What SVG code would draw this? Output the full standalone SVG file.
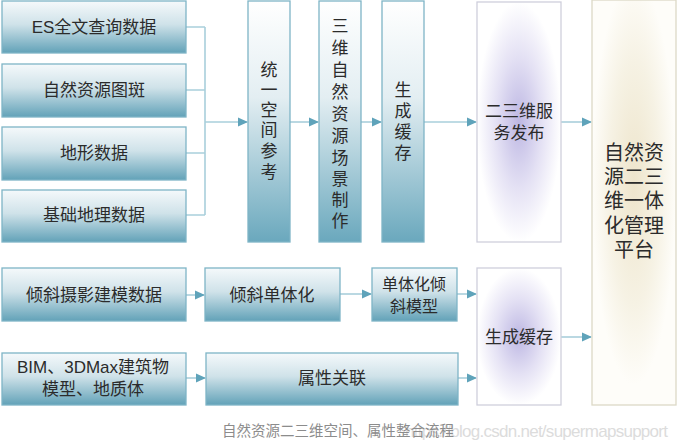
<svg xmlns="http://www.w3.org/2000/svg" width="679" height="443" viewBox="0 0 679 443">
<style>
.t{font-family:"Liberation Sans","Noto Sans CJK SC",sans-serif;fill:#2b2b2b;text-anchor:middle;dominant-baseline:central}
.box{fill:url(#teal);stroke:#7eb4c6;stroke-width:1.3}
.vbox{fill:url(#tealv);stroke:#7eb4c6;stroke-width:1.3}
.ln{stroke:#a9cfdb;stroke-width:1.6;fill:none}
.ar{stroke:#a9cfdb;stroke-width:1.6;fill:none;marker-end:url(#ah)}
</style>
<defs>
<linearGradient id="teal" x1="0" y1="0" x2="0" y2="1">
<stop offset="0" stop-color="#f5f9fb"/>
<stop offset="0.45" stop-color="#cfe2e9"/>
<stop offset="1" stop-color="#62a2b8"/>
</linearGradient>
<linearGradient id="tealv" x1="0" y1="0" x2="0" y2="1">
<stop offset="0" stop-color="#ffffff"/>
<stop offset="0.4" stop-color="#e3eef2"/>
<stop offset="1" stop-color="#6aa8bd"/>
</linearGradient>
<radialGradient id="purp" cx="0.5" cy="0.5" r="0.5">
<stop offset="0" stop-color="#bdb7e3"/>
<stop offset="0.55" stop-color="#e4e1f4"/>
<stop offset="1" stop-color="#ffffff"/>
</radialGradient>
<radialGradient id="beige" cx="0.5" cy="0.45" r="0.5">
<stop offset="0" stop-color="#eee5cc"/>
<stop offset="0.6" stop-color="#f6f2e4"/>
<stop offset="1" stop-color="#fefdf9"/>
</radialGradient>
<marker id="ah" markerWidth="10" markerHeight="10" refX="9" refY="5" orient="auto" markerUnits="userSpaceOnUse">
<path d="M0,0.5 L10,5 L0,9.5 Z" fill="#5fa3ba"/>
</marker>
</defs>

<g id="connectors">
<path class="ln" d="M186,27 H205 M186,90 H205 M186,153 H205 M186,215 H205 M205,27 V215"/>
<path class="ar" d="M205,122 H247"/>
<path class="ar" d="M290,122 H318"/>
<path class="ar" d="M361,122 H381"/>
<path class="ar" d="M424,122 H476"/>
<path class="ar" d="M561,122 H591"/>
<path class="ar" d="M186,295 H204"/>
<path class="ar" d="M340,294 H371"/>
<path class="ar" d="M457,294 H476"/>
<path class="ar" d="M186,378 H205"/>
<path class="ar" d="M458,378 H476"/>
<path class="ar" d="M561,337 H591"/>
</g>

<g id="n-es"><rect class="box" x="2" y="1" width="184" height="52"/><text class="t" x="94" y="27" font-size="17">ES全文查询数据</text></g>
<g id="n-tuban"><rect class="box" x="2" y="64" width="184" height="53"/><text class="t" x="94" y="90" font-size="17">自然资源图斑</text></g>
<g id="n-dixing"><rect class="box" x="2" y="127" width="184" height="53"/><text class="t" x="94" y="153" font-size="17">地形数据</text></g>
<g id="n-jichu"><rect class="box" x="2" y="190" width="184" height="52"/><text class="t" x="94" y="215" font-size="17">基础地理数据</text></g>

<g id="n-tongyi"><rect class="vbox" x="248" y="1" width="42" height="241"/>
<text class="t" font-size="17"><tspan x="269" y="70">统</tspan><tspan x="269" y="90">一</tspan><tspan x="269" y="110">空</tspan><tspan x="269" y="130">间</tspan><tspan x="269" y="151">参</tspan><tspan x="269" y="172">考</tspan></text></g>

<g id="n-sanwei"><rect class="vbox" x="319" y="1" width="42" height="241"/>
<text class="t" font-size="17"><tspan x="340" y="26">三</tspan><tspan x="340" y="48">维</tspan><tspan x="340" y="70">自</tspan><tspan x="340" y="92">然</tspan><tspan x="340" y="114">资</tspan><tspan x="340" y="136">源</tspan><tspan x="340" y="158">场</tspan><tspan x="340" y="179">景</tspan><tspan x="340" y="200">制</tspan><tspan x="340" y="221">作</tspan></text></g>

<g id="n-huancun1"><rect class="vbox" x="382" y="1" width="42" height="241"/>
<text class="t" font-size="17"><tspan x="403" y="90">生</tspan><tspan x="403" y="111">成</tspan><tspan x="403" y="132">缓</tspan><tspan x="403" y="153">存</tspan></text></g>

<g id="n-fabu"><rect x="477" y="2" width="84" height="240" fill="url(#purp)" stroke="#cfcfdc" stroke-width="1.3"/>
<text class="t" font-size="17"><tspan x="519" y="111">二三维服</tspan><tspan x="519" y="133">务发布</tspan></text></g>

<g id="n-pingtai"><rect x="592" y="0" width="84" height="405" fill="url(#beige)" stroke="#dcd9c6" stroke-width="1.3"/>
<text class="t" font-size="20"><tspan x="634" y="153">自然资</tspan><tspan x="634" y="177">源二三</tspan><tspan x="634" y="201">维一体</tspan><tspan x="634" y="226">化管理</tspan><tspan x="634" y="250">平台</tspan></text></g>

<g id="n-qingxie"><rect class="box" x="2" y="268" width="184" height="53"/><text class="t" x="94" y="295" font-size="17">倾斜摄影建模数据</text></g>
<g id="n-dantihua"><rect class="box" x="205" y="268" width="135" height="53"/><text class="t" x="272" y="295" font-size="17">倾斜单体化</text></g>
<g id="n-dtmx"><rect class="box" x="372" y="268" width="85" height="53"/>
<text class="t" font-size="16"><tspan x="414" y="284">单体化倾</tspan><tspan x="414" y="306">斜模型</tspan></text></g>

<g id="n-bim"><rect class="box" x="2" y="353" width="184" height="52"/>
<text class="t" font-size="17"><tspan x="93" y="367">BIM、3DMax建筑物</tspan><tspan x="93" y="389">模型、地质体</tspan></text></g>
<g id="n-shuxing"><rect class="box" x="206" y="353" width="252" height="52"/><text class="t" x="332" y="378" font-size="17">属性关联</text></g>

<g id="n-huancun2"><rect x="477" y="268" width="84" height="137" fill="url(#purp)" stroke="#cfcfdc" stroke-width="1.3"/>
<text class="t" x="519" y="337" font-size="17">生成缓存</text></g>

<text x="405" y="431" font-family="Liberation Sans, sans-serif" font-size="17" fill="#dcdcdc" textLength="263" dominant-baseline="central">https://blog.csdn.net/supermapsupport</text>
<text x="338" y="431" font-family="Liberation Sans, Noto Sans CJK SC, sans-serif" font-size="14.5" fill="#8c8c8c" text-anchor="middle" dominant-baseline="central">自然资源二三维空间、属性整合流程</text>
</svg>
